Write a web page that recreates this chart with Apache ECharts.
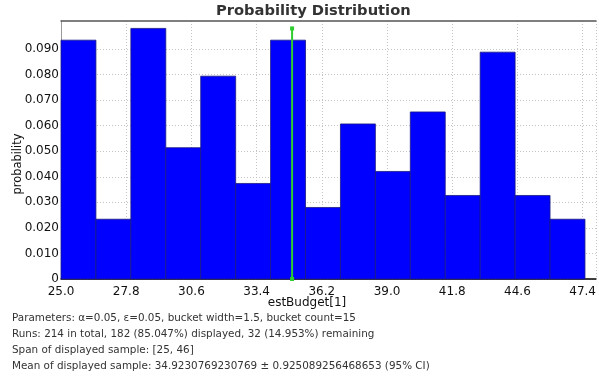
<!DOCTYPE html>
<html>
<head>
<meta charset="utf-8">
<script src="https://cdn.jsdelivr.net/npm/echarts@6/dist/echarts.min.js"></script>
<style>html,body{margin:0;padding:0;background:#fff}#c{width:599px;height:376px}</style>
</head>
<body>
<div id="c"></div>
<script>
// ---- data ----
var bucketStarts = [25.0, 26.5, 28.0, 29.5, 31.0, 32.5, 34.0, 35.5, 37.0, 38.5, 40.0, 41.5, 43.0, 44.5, 46.0];
var bucketWidth = 1.5;
var probabilities = [0.0935, 0.0234, 0.0981, 0.0514, 0.0794, 0.0374, 0.0935, 0.0280, 0.0607, 0.0421, 0.0654, 0.0327, 0.0888, 0.0327, 0.0234];
var meanValue = 34.9230769230769;
var meanLineTop = 0.0981;
var xTickStart = 25.0, xTickStep = 2.8, xMax = 47.97;
var yTickStep = 0.01, yMax = 0.101;
var titleText = 'Probability Distribution';
var xName = 'estBudget[1]';
var yName = 'probability';
var infoLines = [
  'Parameters: \u03b1=0.05, \u03b5=0.05, bucket width=1.5, bucket count=15',
  'Runs: 214 in total, 182 (85.047%) displayed, 32 (14.953%) remaining',
  'Span of displayed sample: [25, 46]',
  'Mean of displayed sample: 34.9230769230769 \u00b1 0.925089256468653 (95% CI)'
];

var FONT = 'DejaVu Sans';
var chart = echarts.init(document.getElementById('c'), null, {renderer: 'canvas'});

var barData = bucketStarts.map(function (s, i) { return [s, s + bucketWidth, probabilities[i]]; });

var gridColors = [];
for (var i = 0; i < 12; i++) gridColors.push(i >= 10 ? 'rgba(0,0,0,0)' : '#c4c4c4');

var graphics = [
  {type: 'text', left: 216, top: 4, style: {text: titleText, font: 'bold 14.7px "' + FONT + '"', fill: '#333'}},
  {type: 'text', x: 307, y: 303, style: {text: xName, font: '12px "' + FONT + '"', fill: '#111', align: 'center', verticalAlign: 'middle'}},
  {type: 'text', x: 18, y: 164, rotation: Math.PI / 2, style: {text: yName, font: '11.4px "' + FONT + '"', fill: '#111', align: 'center', verticalAlign: 'middle'}}
];
infoLines.forEach(function (t, i) {
  graphics.push({type: 'text', x: 12, y: 318 + i * 16, style: {text: t, font: '10.4px "' + FONT + '"', fill: '#333', align: 'left', verticalAlign: 'middle'}});
});

chart.setOption({
  animation: false,
  backgroundColor: '#fff',
  grid: {left: 61, right: 0, top: 21, bottom: 97, containLabel: false},
  graphic: graphics,
  xAxis: [{
    type: 'value', min: xTickStart, max: xMax, interval: xTickStep,
    axisLine: {show: true, onZero: false, lineStyle: {color: '#000', width: 1.5}},
    axisTick: {show: false},
    axisLabel: {showMaxLabel: false, margin: 7, color: '#111', fontFamily: FONT, fontSize: 12,
      formatter: function (v) { return v.toFixed(1); }},
    splitLine: {show: true, lineStyle: {color: '#c4c4c4', type: [1, 2], width: 1}}
  }, {
    type: 'value', position: 'top', min: xTickStart, max: xMax,
    axisLine: {show: true, onZero: false, lineStyle: {color: '#555', width: 1.5}},
    axisTick: {show: false}, axisLabel: {show: false}, splitLine: {show: false},
    z: 4
  }],
  yAxis: {
    type: 'value', min: 0, max: yMax, interval: yTickStep,
    axisLine: {show: true, onZero: false, lineStyle: {color: '#999', width: 1}},
    axisTick: {show: false},
    axisLabel: {margin: 2, color: '#111', fontFamily: FONT, fontSize: 12,
      formatter: function (v) { if (v === 0) return '0'; if (v > 0.095) return ''; return v.toFixed(3); }},
    splitLine: {show: true, lineStyle: {color: gridColors, type: [1, 2], width: 1}}
  },
  series: [{
    type: 'custom',
    data: barData,
    encode: {x: [0, 1], y: 2},
    renderItem: function (params, api) {
      var p0 = api.coord([api.value(0), 0]);
      var p1 = api.coord([api.value(1), api.value(2)]);
      return {
        type: 'rect',
        shape: {x: p0[0], y: p1[1], width: p1[0] - p0[0], height: p0[1] - p1[1]},
        style: {fill: '#0000ff', stroke: '#1a1a80', lineWidth: 0.8}
      };
    },
    z: 2
  }, {
    type: 'line',
    data: [[meanValue, 0], [meanValue, meanLineTop]],
    symbol: 'rect', symbolSize: 4,
    itemStyle: {color: '#2ecc2e'},
    lineStyle: {color: '#2ecc2e', width: 2},
    z: 6
  }]
});
</script>
</body>
</html>
